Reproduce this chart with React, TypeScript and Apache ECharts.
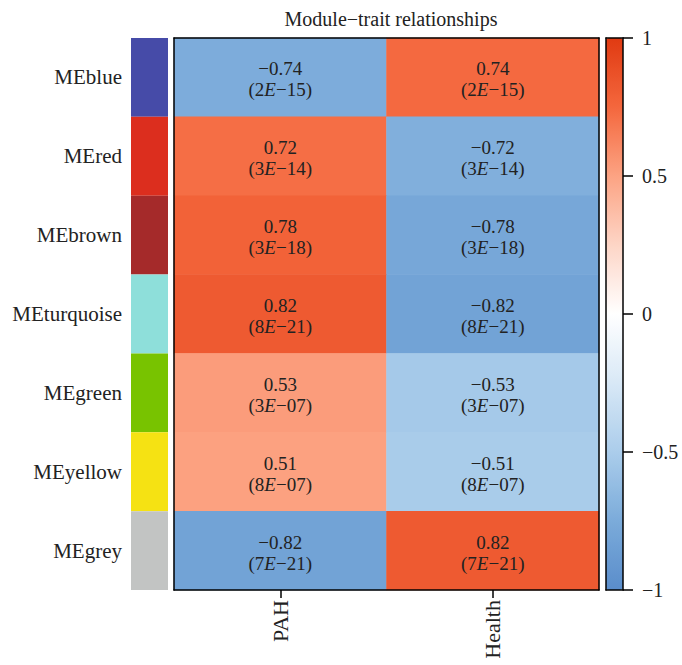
import React, { useEffect, useRef } from "react";
import * as echarts from "echarts";

const modules = ["MEblue", "MEred", "MEbrown", "MEturquoise", "MEgreen", "MEyellow", "MEgrey"];
const moduleColors = ["#464BA8", "#DC2E1E", "#A52A2A", "#8EDFDA", "#78C300", "#F5E213", "#C2C4C3"];
const traits = ["PAH", "Health"];
const pahCorr = [-0.74, 0.72, 0.78, 0.82, 0.53, 0.51, -0.82];
const pahP = ["2E-15", "3E-14", "3E-18", "8E-21", "3E-07", "8E-07", "7E-21"];
const healthCorr = [0.74, -0.72, -0.78, -0.82, -0.53, -0.51, 0.82];
const healthP = ["2E-15", "3E-14", "3E-18", "8E-21", "3E-07", "8E-07", "7E-21"];
const scaleColors = ["#5A8DCB", "#7BABDA", "#ABCDEB", "#D8E8F6", "#FFFFFF", "#FDD5C6", "#FCA383", "#F4673D", "#E03A12"];

const FONT = "Liberation Serif";
const minus = (s: string) => s.replace(/-/g, "\u2212");

export default function App() {
  const ref = useRef<HTMLDivElement>(null);
  useEffect(() => {
    if (!ref.current) return;
    const chart = echarts.init(ref.current, undefined, { renderer: "svg" });
    const data: any[] = [];
    modules.forEach((_, i) => {
      data.push({ value: [0, i, pahCorr[i]], p: pahP[i] });
      data.push({ value: [1, i, healthCorr[i]], p: healthP[i] });
    });
    const fmtP = (p: string) => {
      const [m, e] = p.split("E");
      return `{p|(${m}}{i|E}{p|${minus(e)})}`;
    };
    const lineStyle = { color: "#000", width: 1.5 };
    const txt = "#222";
    const option: any = {
      animation: false,
      textStyle: { fontFamily: FONT },
      title: {
        text: "Module\u2212trait relationships",
        left: 386,
        textAlign: "center",
        top: 4,
        textStyle: { fontFamily: FONT, fontSize: 20, fontWeight: "normal", color: txt },
      },
      grid: [
        { left: 174, right: 83, top: 38, height: 552 },
        { left: 131, width: 37, top: 38, height: 552 },
        { left: 606, width: 17, top: 38, height: 552 },
      ],
      xAxis: [
        {
          type: "category", gridIndex: 0, data: traits, position: "bottom", z: 10,
          axisLine: { show: true, onZero: false, lineStyle },
          axisTick: { show: true, alignWithLabel: true, length: 8, lineStyle: { color: "#000", width: 1.5 } },
          axisLabel: { rotate: 90, fontSize: 22, color: txt, fontFamily: FONT, margin: 10 },
          splitLine: { show: false },
        },
        {
          type: "category", gridIndex: 0, data: traits, position: "top", z: 10,
          axisLine: { show: true, onZero: false, lineStyle },
          axisTick: { show: false }, axisLabel: { show: false }, splitLine: { show: false },
        },
        {
          type: "value", gridIndex: 1, min: 0, max: 1, show: false,
        },
        {
          type: "value", gridIndex: 2, min: 0, max: 1, position: "bottom", z: 10,
          axisLine: { show: true, onZero: false, lineStyle },
          axisTick: { show: false }, axisLabel: { show: false }, splitLine: { show: false },
        },
        {
          type: "value", gridIndex: 2, min: 0, max: 1, position: "top", z: 10,
          axisLine: { show: true, onZero: false, lineStyle },
          axisTick: { show: false }, axisLabel: { show: false }, splitLine: { show: false },
        },
      ],
      yAxis: [
        {
          type: "category", gridIndex: 0, data: modules, inverse: true, position: "left", z: 10,
          axisLine: { show: true, onZero: false, lineStyle },
          axisTick: { show: false }, axisLabel: { show: false }, splitLine: { show: false },
        },
        {
          type: "category", gridIndex: 0, data: modules, inverse: true, position: "right", z: 10,
          axisLine: { show: true, onZero: false, lineStyle },
          axisTick: { show: false }, axisLabel: { show: false }, splitLine: { show: false },
        },
        {
          type: "category", gridIndex: 1, data: modules, inverse: true, position: "left",
          axisLine: { show: false }, axisTick: { show: false }, splitLine: { show: false },
          axisLabel: { fontSize: 21, color: txt, fontFamily: FONT, margin: 9 },
        },
        {
          type: "value", gridIndex: 2, min: -1, max: 1, interval: 0.5, position: "right", z: 10,
          axisLine: { show: true, onZero: false, lineStyle },
          axisTick: { show: true, length: 10, lineStyle: { color: "#000", width: 1.5 } },
          axisLabel: { fontSize: 20, color: txt, fontFamily: FONT, margin: 19, formatter: (v: number) => minus(String(v)) },
          splitLine: { show: false },
        },
        {
          type: "value", gridIndex: 2, min: -1, max: 1, position: "left", z: 10,
          axisLine: { show: true, onZero: false, lineStyle },
          axisTick: { show: false }, axisLabel: { show: false }, splitLine: { show: false },
        },
      ],
      visualMap: {
        type: "continuous",
        min: -1,
        max: 1,
        seriesIndex: 0,
        calculable: false,
        hoverLink: false,
        orient: "vertical",
        left: 606,
        top: 38,
        itemWidth: 17,
        itemHeight: 552,
        padding: 0,
        showLabel: false,
        inRange: { color: scaleColors },
      },
      series: [
        {
          type: "heatmap",
          xAxisIndex: 0,
          yAxisIndex: 0,
          data,
          label: {
            show: true,
            color: txt,
            fontFamily: FONT,
            fontSize: 19,
            lineHeight: 21,
            offset: [0, 2],
            formatter: (prm: any) => {
              const v = prm.value[2] as number;
              return `{v|${minus(v.toFixed(2))}}\n${fmtP(prm.data.p)}`;
            },
            rich: {
              v: { fontSize: 19, fontFamily: FONT, color: txt, lineHeight: 21 },
              p: { fontSize: 19, fontFamily: FONT, color: txt, lineHeight: 21 },
              i: { fontSize: 19, fontFamily: FONT, color: txt, fontStyle: "italic", lineHeight: 21 },
            },
          },
          itemStyle: { borderWidth: 0 },
          emphasis: { disabled: true },
        },
        {
          type: "bar",
          xAxisIndex: 2,
          yAxisIndex: 2,
          barWidth: "100%",
          data: moduleColors.map((c) => ({ value: 1, itemStyle: { color: c } })),
          emphasis: { disabled: true },
        },
      ],
    };
    chart.setOption(option);
    return () => chart.dispose();
  }, []);
  return <div ref={ref} style={{ width: 682, height: 665, position: "absolute", left: 0, top: 0 }} />;
}
